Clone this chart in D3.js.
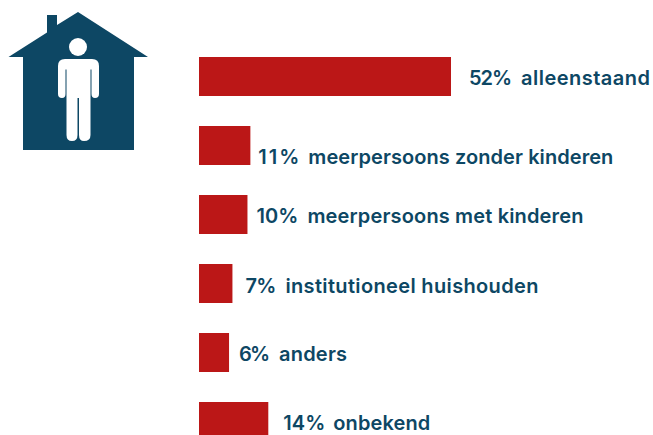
<!DOCTYPE html>
<html><head><meta charset="utf-8">
<script src="https://cdn.jsdelivr.net/npm/d3@7"></script>
<style>html,body{margin:0;padding:0;background:#fff;overflow:hidden}svg{display:block}
text{font-family:Inter,sans-serif;font-weight:600;font-size:20px;fill:#0d4764}</style></head>
<body><svg id="c" width="653" height="435"></svg>
<script>
const categories = ["alleenstaand","meerpersoons zonder kinderen","meerpersoons met kinderen","institutioneel huishouden","anders","onbekend"];
const values = [52,10.6,10,6.9,6.2,14.3];
const percentLabels = ["52%","11%","10%","7%","6%","14%"];
const labelGaps = [18,8,9,13,10,15];
const nameOffsets = [52,50,51,40,40,50];
const baselineOffsets = [28,38,28,29,28,28];
const percentWidths = [43,41,42,31,31,42];
const nameWidths = [129,305,276,253,68,97];

const svg = d3.select("#c");
const x = d3.scaleLinear().domain([0,52]).range([199,451]);
const y = d3.scaleBand().domain(categories).range([57,441]).paddingInner(30/69).paddingOuter(0);

svg.append("path").attr("fill","#0d4764").attr("d",
 "M8.5,57 L47,32.5 L47,15 L57,15 L57,25 L78,12 L148,57 L134,57 L134,150 L23,150 L23,57 Z");
svg.append("circle").attr("cx",78).attr("cy",47).attr("r",9).attr("fill","#fff");
svg.append("path").attr("fill","#fff").attr("d",
 "M65,59 L92,59 Q99,59 99,66 L99,94 Q99,98 95,98 Q91.5,98 91.5,94 L91.5,69.5 L90.5,69.5 L90.5,135 Q90.5,141 84,141 Q79,141 79,135 L79,98 L77.5,98 L77.5,135 Q77.5,141 72,141 Q66.5,141 66.5,135 L66.5,69.5 L65.5,69.5 L65.5,94 Q65.5,98 62,98 Q58,98 58,94 L58,66 Q58,59 65,59 Z");

const g = svg.selectAll("g.row").data(categories).join("g").attr("class","row");
g.append("rect").attr("x",x(0)).attr("y",d=>y(d)).attr("height",y.bandwidth())
 .attr("width",(d,i)=>x(values[i])-x(0)).attr("fill","#bb1717");
g.append("text").attr("x",(d,i)=>x(values[i])+labelGaps[i]).attr("y",(d,i)=>y(d)+baselineOffsets[i])
 .attr("textLength",(d,i)=>percentWidths[i]).attr("lengthAdjust","spacing")
 .text((d,i)=>percentLabels[i]);
g.append("text").attr("x",(d,i)=>x(values[i])+labelGaps[i]+nameOffsets[i]).attr("y",(d,i)=>y(d)+baselineOffsets[i])
 .attr("textLength",(d,i)=>nameWidths[i]).attr("lengthAdjust","spacing")
 .text(d=>d);
</script></body></html>
